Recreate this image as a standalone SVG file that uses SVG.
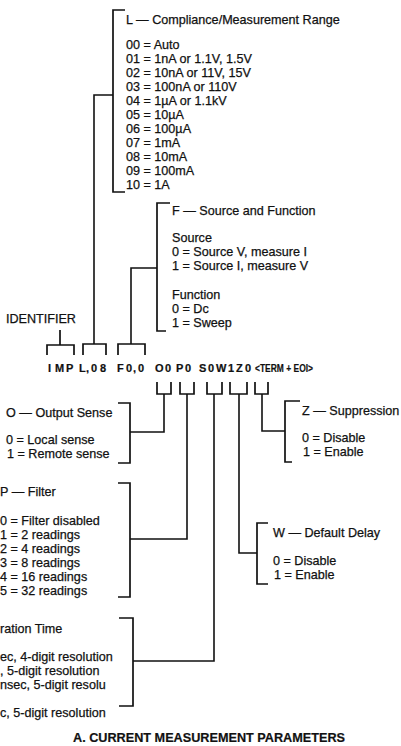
<svg xmlns="http://www.w3.org/2000/svg" width="401" height="746" viewBox="0 0 401 746">
<style>
text{font-family:"Liberation Sans",Arial,sans-serif;font-size:12.6px;fill:#111;stroke:#111;stroke-width:0.25}
.cmd{font-weight:bold;font-size:11px;stroke-width:0.2}
.ttl{font-weight:bold;font-size:12.5px;stroke-width:0.2}
.br{fill:none;stroke:#111;stroke-width:1.7}
.cn{fill:none;stroke:#111;stroke-width:1.6}
</style>
<rect width="401" height="746" fill="#fff"/>
<g id="connectors">
<path class="cn" d="M113,95 H94 V344"/>
<path class="cn" d="M157,268 H131 V344"/>
<path class="cn" d="M164,394 V432 H130"/>
<path class="cn" d="M187,394 V539 H130"/>
<path class="cn" d="M214,394 V661 H133"/>
<path class="cn" d="M239,394 V553 H257"/>
<path class="cn" d="M262,394 V431 H285"/>
</g>
<g id="node-L">
<path class="br" d="M125,10 H113 V192 H125"/>
<text x="126" y="24">L — Compliance/Measurement Range</text>
<text x="126" y="49">00 = Auto</text>
<text x="126" y="63">01 = 1nA or 1.1V, 1.5V</text>
<text x="126" y="77">02 = 10nA or 11V, 15V</text>
<text x="126" y="91">03 = 100nA or 110V</text>
<text x="126" y="105">04 = 1µA or 1.1kV</text>
<text x="126" y="119">05 = 10µA</text>
<text x="126" y="133">06 = 100µA</text>
<text x="126" y="147">07 = 1mA</text>
<text x="126" y="161">08 = 10mA</text>
<text x="126" y="175">09 = 100mA</text>
<text x="126" y="189">10 = 1A</text>
</g>
<g id="node-F">
<path class="br" d="M170,203 H157 V331 H166"/>
<text x="172" y="215">F — Source and Function</text>
<text x="172" y="242">Source</text>
<text x="172" y="256">0 = Source V, measure I</text>
<text x="172" y="270">1 = Source I, measure V</text>
<text x="172" y="299">Function</text>
<text x="172" y="313">0 = Dc</text>
<text x="172" y="327">1 = Sweep</text>
</g>
<g id="node-identifier">
<text x="6" y="323">IDENTIFIER</text>
<path class="br" d="M60,330 V345 M47,355 V345 H74 V355"/>
</g>
<g id="node-command">
<path class="br" d="M83,355 V344 H106 V355"/>
<path class="br" d="M118,355 V344 H145 V355"/>
<text class="cmd" x="48 55 66 79 86 91 100 117 126 133 138 155 165 176 185 193 199 208 216 228 236 245" y="372">IMPL,08F0,0O0P0 S0W1Z0</text>
<text class="cmd" x="255" y="372" textLength="58" lengthAdjust="spacingAndGlyphs">&lt;TERM + EOI&gt;</text>
<path class="br" d="M157,382 V394 H171 V382"/>
<path class="br" d="M180,382 V394 H194 V382"/>
<path class="br" d="M207,382 V394 H222 V382"/>
<path class="br" d="M230,382 V394 H247 V382"/>
<path class="br" d="M255,382 V394 H268 V382"/>
</g>
<g id="node-O">
<path class="br" d="M118,403 H130 V463 H118"/>
<text x="6" y="417">O — Output Sense</text>
<text x="6" y="444">0 = Local sense</text>
<text x="7" y="458">1 = Remote sense</text>
</g>
<g id="node-Z">
<path class="br" d="M300,401 H285 V462 H292"/>
<text x="302" y="415">Z — Suppression</text>
<text x="302" y="442">0 = Disable</text>
<text x="303" y="456">1 = Enable</text>
</g>
<g id="node-P">
<path class="br" d="M118,483 H130 V597 H118"/>
<text x="0" y="496">P — Filter</text>
<text x="0" y="525">0 = Filter disabled</text>
<text x="0" y="539">1 = 2 readings</text>
<text x="0" y="553">2 = 4 readings</text>
<text x="0" y="567">3 = 8 readings</text>
<text x="0" y="581">4 = 16 readings</text>
<text x="0" y="595">5 = 32 readings</text>
</g>
<g id="node-W">
<path class="br" d="M268,523 H257 V584 H268"/>
<text x="273" y="537">W — Default Delay</text>
<text x="273" y="565">0 = Disable</text>
<text x="274" y="579">1 = Enable</text>
</g>
<g id="node-S">
<path class="br" d="M119,618 H133 V706 H119"/>
<text x="0" y="633">ration Time</text>
<text x="0" y="661">ec, 4-digit resolution</text>
<text x="0" y="675">, 5-digit resolution</text>
<text x="0" y="689">nsec, 5-digit resolu</text>
<text x="0" y="717">c, 5-digit resolution</text>
</g>
<g id="title">
<text class="ttl" x="73" y="742" textLength="272" lengthAdjust="spacingAndGlyphs">A. CURRENT MEASUREMENT PARAMETERS</text>
</g>
</svg>
